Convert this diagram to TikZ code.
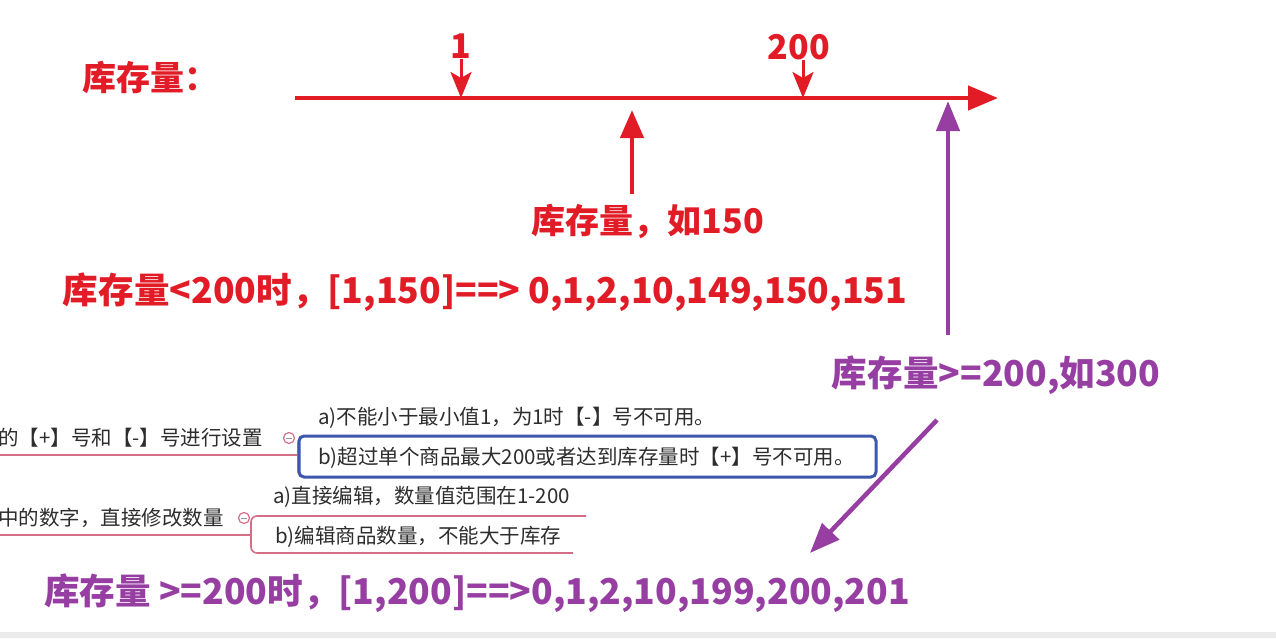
\documentclass[tikz,border=0pt]{standalone}
\usepackage{fontspec}
\setmainfont{Noto Sans CJK SC}
\usetikzlibrary{arrows.meta}

\definecolor{stockred}{RGB}{226,28,38}
\definecolor{stockpurple}{RGB}{150,62,162}
\definecolor{mapline}{RGB}{212,110,135}
\definecolor{mapblue}{RGB}{62,86,172}
\definecolor{maptext}{RGB}{45,45,45}

\begin{document}
\begin{tikzpicture}[x=1pt, y=-1pt,
  big/.style={font=\fontsize{34}{40}\selectfont\bfseries, inner sep=0pt},
  wide/.style={font=\fontsize{35.6}{42}\selectfont\bfseries},
  redlbl/.style={big, text=stockred},
  purlbl/.style={big, text=stockpurple},
  maplbl/.style={font=\fontsize{20.5}{24}\selectfont, text=maptext, inner sep=0pt, anchor=west},
  ax/.style={stockred, line width=4.5pt, -{Triangle[length=30pt,width=24pt]}},
  tick/.style={stockred, line width=3pt, -{Stealth[length=26pt,width=21pt,inset=6pt]}},
  redarr/.style={stockred, line width=4.5pt, -{Triangle[length=28pt,width=23pt]}},
  purarr/.style={stockpurple, line width=4.5pt, -{Triangle[length=30pt,width=23pt]}},
  mapln/.style={mapline, line width=1.6pt},
  fold/.style={mapline, line width=1.2pt, fill=white},
]

\useasboundingbox (0,0) rectangle (1276,638);
\fill[white] (0,0) rectangle (1276,638);
\fill[black!8] (0,632) rectangle (1276,638);

% Axis
\coordinate (axisL) at (295,98);
\coordinate (axisR) at (998,98);
\draw[ax] (axisL) -- (axisR);
\node[redlbl] (title) at (150,78) {库存量：};

% Marks 1 and 200
\node[redlbl] (one) at (461,46) {1};
\node[redlbl] (twohundred) at (799,47) {200};
\draw[tick] (one.south) -- (one.south |- axisL);
\draw[tick] ([xshift=4pt]twohundred.south) -- ([xshift=4pt]twohundred.south |- axisL);

% Stock of 150
\coordinate (p150) at (632,110);
\node[redlbl] (stock150) at (648,221) {库存量，如150};
\draw[redarr] ([yshift=10pt]stock150.north -| p150) -- (p150);
\node[redlbl, wide] (rule150) at (485,292) {库存量<200时，[1,150]==> 0,1,2,10,149,150,151};

% Stock of 300
\coordinate (p300) at (948,101);
\node[purlbl, wide] (stock300) at (996,375) {库存量>=200,如300};
\draw[purarr] ([yshift=20pt]stock300.north -| p300) -- (p300);
\coordinate (d1) at (937,420);
\coordinate (d2) at (810,553);
\draw[purarr] (d1) -- (d2);
\node[purlbl, wide] (rule300) at (477,593) {库存量 >=200时，[1,200]==>0,1,2,10,199,200,201};

% Mind map, first branch
\node[maplbl] (plus) at (-2,438) {的【+】号和【-】号进行设置};
\draw[mapln] (0,455) -- (297,455);
\draw[mapln, rounded corners=6pt] (870,437) -- (298,437) -- (298,477) -- (870,477);
\draw[fold] (289,438) circle (5.5pt);
\draw[maptext!50, line width=1pt] (286,438) -- (292,438);
\node[maplbl] (minA) at (318,418) {a)不能小于最小值1，为1时【-】号不可用。};
\draw[mapblue, line width=3pt, rounded corners=5pt, fill=white] (299,436) rectangle (876,477);
\node[maplbl] (maxB) at (318,458) {b)超过单个商品最大200或者达到库存量时【+】号不可用。};

% Mind map, second branch
\node[maplbl] (edit) at (-2,518) {中的数字，直接修改数量};
\draw[mapln] (0,535) -- (251,535);
\draw[mapln, rounded corners=6pt] (586,516) -- (251,516) -- (251,553) -- (573,553);
\draw[fold] (244,518) circle (5.5pt);
\draw[maptext!50, line width=1pt] (241,518) -- (247,518);
\node[maplbl] (editA) at (273,497) {a)直接编辑，数量值范围在1-200};
\node[maplbl] (editB) at (275,537) {b)编辑商品数量，不能大于库存};

\end{tikzpicture}
\end{document}
